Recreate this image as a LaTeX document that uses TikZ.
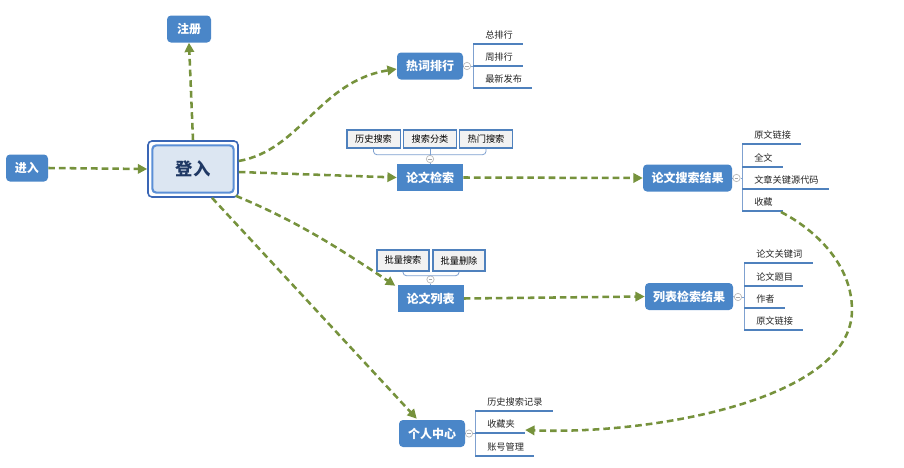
\documentclass[tikz,border=0pt]{standalone}
\usepackage{fontspec}
\setmainfont{Noto Sans CJK SC}
\usetikzlibrary{arrows.meta,calc}
\definecolor{boxblue}{HTML}{4A86C8}
\definecolor{edgegreen}{HTML}{76923C}
\definecolor{ulblue}{HTML}{4F81BD}
\definecolor{brblue}{HTML}{7FA1D0}
\definecolor{lightfill}{HTML}{DCE6F2}
\definecolor{darktext}{HTML}{1F3864}
\definecolor{tagfill}{HTML}{F2F2F2}
\definecolor{outerblue}{HTML}{3A66B5}
\definecolor{innerblue}{HTML}{5B8FD6}
\begin{document}
\begin{tikzpicture}[x=0.75pt,y=-0.75pt,
  topic/.style={fill=boxblue,text=white,font=\bfseries\fontsize{9}{10}\selectfont,inner sep=0pt,minimum height=20.25pt,minimum width=49.5pt,rounded corners=3pt},
  topicsq/.style={topic,sharp corners},
  leaf/.style={font=\fontsize{6.9}{8}\selectfont,inner sep=0pt,anchor=west,text=black!85},
  tagbox/.style={draw=ulblue,line width=1pt,fill=tagfill,font=\fontsize{6.9}{8}\selectfont,inner sep=0pt,minimum width=40pt,minimum height=13.5pt},
  uline/.style={draw=ulblue,line width=1.1pt},
  bracket/.style={draw=brblue,line width=0.6pt,rounded corners=2.5pt},
  knob/.style={circle,draw=gray!55,fill=white,inner sep=0pt,minimum size=5.5pt,line width=0.5pt,
    path picture={\draw[gray!70,line width=0.4pt]([xshift=-1.4pt]path picture bounding box.center)--([xshift=1.4pt]path picture bounding box.center);}},
  flow/.style={draw=edgegreen,line width=1.9pt,dash pattern=on 5pt off 3pt,-{Triangle[length=7pt,width=7pt]}}
]
\useasboundingbox[fill=white] (0,0) rectangle (904,468);

% main topics
\node[topic,minimum width=33pt] (zhuce) at (189,29) {注册};
\node[topic,minimum width=31.5pt] (jinru) at (27,168) {进入};
\node[draw=outerblue,line width=1.2pt,fill=white,rounded corners=3pt,minimum width=67.5pt,minimum height=42pt,inner sep=0pt] (dengru) at (193,169) {};
\node[draw=innerblue,line width=1.6pt,fill=lightfill,rounded corners=3pt,minimum width=61pt,minimum height=35.5pt,inner sep=0pt,text=darktext,font=\bfseries\fontsize{13}{14}\selectfont] (dengruin) at (dengru.center) {登入};
\node[topic] (rcph) at (430,66) {热词排行};
\node[topicsq] (lwjs) at (430,177.5) {论文检索};
\node[topic,minimum width=66.75pt] (ssjg) at (687.5,178) {论文搜索结果};
\node[topicsq] (lwlb) at (430.5,298.5) {论文列表};
\node[topic,minimum width=66pt] (lbjg) at (689,296.5) {列表检索结果};
\node[topic] (grzx) at (432,433.5) {个人中心};

% knobs
\node[knob] (kr) at (467,66) {};
\node[knob] (ks) at (736.5,178) {};
\node[knob] (kl) at (738,297) {};
\node[knob] (kg) at (469,433.5) {};
\node[knob] (kj) at (430,159) {};
\node[knob] (kb) at (430.5,279.5) {};

% leaves
\node[leaf] (r1) at (485,35) {总排行};
\node[leaf] (r2) at (485,57) {周排行};
\node[leaf] (r3) at (485,79) {最新发布};
\node[leaf] (s1) at (754,135) {原文链接};
\node[leaf] (s2) at (754,158) {全文};
\node[leaf] (s3) at (754,180) {文章关键源代码};
\node[leaf] (s4) at (754,202) {收藏};
\node[leaf] (l1) at (756,254) {论文关键词};
\node[leaf] (l2) at (756,277) {论文题目};
\node[leaf] (l3) at (756,299) {作者};
\node[leaf] (l4) at (756,321) {原文链接};
\node[leaf] (g1) at (487,402) {历史搜索记录};
\node[leaf] (g2) at (487,424) {收藏夹};
\node[leaf] (g3) at (487,447) {账号管理};

\coordinate (vr) at ($(r1.west)+(-12,9)$);
\coordinate (vs) at ($(s1.west)+(-12,9)$);
\coordinate (vl) at ($(l1.west)+(-12,9)$);
\coordinate (vg) at ($(g1.west)+(-12,9)$);

% brackets
\draw[bracket] (vr) -- ($(r3.west)+(-12,9)$);
\draw[bracket] (vs) -- ($(s4.west)+(-12,9)$);
\draw[bracket] (vl) -- ($(l4.west)+(-12,9)$);
\draw[bracket] (vg) -- ($(g3.west)+(-12,9)$);
\draw[bracket] (rcph.east) -- (kr.west);
\draw[bracket] (kr.east) -- (vr |- kr.east);
\draw[bracket] (ssjg.east) -- (ks.west);
\draw[bracket] (ks.east) -- (vs |- ks.east);
\draw[bracket] (lbjg.east) -- (kl.west);
\draw[bracket] (kl.east) -- (vl |- kl.east);
\draw[bracket] (grzx.east) -- (kg.west);
\draw[bracket] (kg.east) -- (vg |- kg.east);
\foreach \c in {r1,r2,r3,s1,s2,s3,s4,l1,l2,l3,l4,g1,g2,g3}
  \draw[uline] ($(\c.west)+(-12,9)$) -- ($(\c.east)+(10,9)$);

% tags above
\node[tagbox] (t1) at (373.5,139) {历史搜索};
\node[tagbox] (t2) at (430,139) {搜索分类};
\node[tagbox] (t3) at (486,139) {热门搜索};
\draw[bracket] (t1.south) -- ++(0,6) -| (t3.south);
\draw[bracket] (t2.south) -- (kj.north);
\draw[bracket] (kj.south) -- (lwjs.north);
\node[tagbox,minimum width=39pt,minimum height=15.75pt] (b1) at (403,260.5) {批量搜索};
\node[tagbox,minimum width=39pt,minimum height=15.75pt] (b2) at (459,260.5) {批量删除};
\draw[bracket] (b1.south) -- ++(0,4) -| (b2.south);
\draw[bracket] (kb.south) -- (lwlb.north);

% flows
\draw[flow] (jinru.east) -- (dengru.west);
\draw[flow] (dengru.north) -- (zhuce.south);
\draw[flow] ($(dengru.east)+(0,-8)$) .. controls +(62,-11) and +(-77,12) .. ($(rcph.west)+(0,3)$);
\draw[flow] ($(dengru.east)+(0,3)$) -- (lwjs.west);
\draw[flow] (lwjs.east) -- (ssjg.west);
\draw[flow] ($(dengru.south east)+(-3,-2)$) .. controls +(60,25) and +(-60,-40) .. ($(lwlb.north west)+(-2,1)$);
\draw[flow] ($(dengru.south)+(19,0)$) -- ($(grzx.north west)+(18,-1)$);
\draw[flow] (lwlb.east) -- (lbjg.west);
\coordinate (far) at (852,310);
\draw[flow] ($(s4.east)+(8,10)$) .. controls +(35,18) and +(0,-45) .. (far) .. controls +(0,90) and +(125,5) .. ($(g2.east)+(10,6)$);
\end{tikzpicture}
\end{document}
